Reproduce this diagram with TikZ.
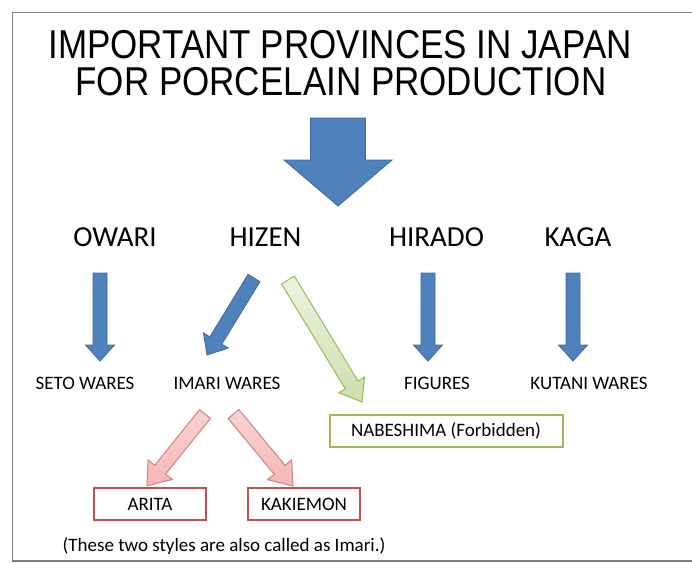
\documentclass[tikz,border=0pt]{standalone}
\usepackage{fontspec}
\setmainfont{Carlito}
\newfontfamily\titlefont{Liberation Sans}
\usetikzlibrary{calc}
\definecolor{bluefill}{HTML}{4F81BD}
\definecolor{blueline}{HTML}{3C6A9E}
\definecolor{greenfill}{HTML}{D7E4BD}
\definecolor{greenline}{HTML}{9BBB59}
\definecolor{redfill}{HTML}{F4B6B5}
\definecolor{redline}{HTML}{C0504D}
\definecolor{redarrowline}{HTML}{D3817F}
\newcommand\blockarrow[6]{%
  \coordinate (bh) at ($(#3)!#6!(#2)$);
  \draw[#1] ($(#2)!#4!90:(#3)$) -- ($(bh)!#4!-90:(#2)$) -- ($(bh)!#5!-90:(#2)$) -- (#3)
    -- ($(bh)!#5!90:(#2)$) -- ($(bh)!#4!90:(#2)$) -- ($(#2)!#4!-90:(#3)$) -- cycle;
}
\begin{document}
\begin{tikzpicture}[x=1pt,y=-1pt,
  titletext/.style={font=\titlefont\fontsize{35}{42}\selectfont, inner sep=0pt, align=center},
  province/.style={font=\fontsize{29}{34}\selectfont, inner sep=0pt},
  ware/.style={font=\fontsize{19}{23}\selectfont, inner sep=0pt},
  greenbox/.style={draw=greenline, line width=2pt, minimum width=233pt, minimum height=32pt, font=\fontsize{19}{23}\selectfont},
  redbox/.style={draw=redline, line width=2pt, minimum width=112pt, minimum height=32pt, font=\fontsize{19}{23}\selectfont},
  bluearrow/.style={fill=bluefill, draw=blueline, line width=0.8pt, line join=miter},
  greenarrow/.style={top color=greenfill!45!white, bottom color=greenfill!85!greenline, draw=greenline, line width=1pt},
  redarrow/.style={top color=redfill!60!white, bottom color=redfill, draw=redarrowline, line width=1pt},
  frameline/.style={draw=gray, line width=1.6pt}
]
\useasboundingbox (0,0) rectangle (692,563);
\fill[white] (0,0) rectangle (692,563);
% frame
\draw[frameline] (692,12.5) -- (12.5,12.5) -- (12.5,561) -- (692,561);

% title
\node[titletext] (title1) at (340,45) {\scalebox{1}[1.15]{IMPORTANT PROVINCES IN JAPAN}};
\node[titletext] (title2) at (341,82) {\scalebox{1}[1.15]{FOR PORCELAIN PRODUCTION}};

% provinces
\node[province] (owari) at (115,237) {OWARI};
\node[province] (hizen) at (265.5,237) {HIZEN};
\node[province] (hirado) at (436.5,237) {HIRADO};
\node[province] (kaga) at (578,237) {KAGA};

% wares
\node[ware] (seto) at (85,383) {SETO WARES};
\node[ware] (imari) at (227,383) {IMARI WARES};
\node[ware] (figures) at (437,383) {FIGURES};
\node[ware] (kutani) at (589,383) {KUTANI WARES};

% boxes
\node[greenbox] (nabeshima) at (446,430.5) {NABESHIMA (Forbidden)};
\node[redbox] (arita) at (150,504) {ARITA};
\node[redbox] (kakiemon) at (304,504) {KAKIEMON};

% caption
\node[ware] (caption) at (224,546) {(These two styles are also called as Imari.)};

% arrow end coordinates
\coordinate (bigS) at (338,118);
\coordinate (bigE) at (338,206);
\coordinate (owS) at (100,273);
\coordinate (owE) at (100,361);
\coordinate (hiS) at (428,273);
\coordinate (hiE) at (428,361);
\coordinate (kaS) at (573,273);
\coordinate (kaE) at (573,361);
\coordinate (hzS) at (254,278);
\coordinate (hzE) at (207,355);
\coordinate (grS) at (288,280);
\coordinate (grE) at (362,402);
\coordinate (rlS) at (205,414);
\coordinate (rlE) at (147,486);
\coordinate (rrS) at (233.5,414);
\coordinate (rrE) at (293,486);

% arrows
\blockarrow{bluearrow}{bigS}{bigE}{27.5pt}{54pt}{46pt}
\blockarrow{bluearrow}{owS}{owE}{7pt}{14.5pt}{16pt}
\blockarrow{bluearrow}{hiS}{hiE}{7pt}{14.5pt}{16pt}
\blockarrow{bluearrow}{kaS}{kaE}{7pt}{14.5pt}{16pt}
\blockarrow{bluearrow}{hzS}{hzE}{7pt}{14.5pt}{17pt}
\blockarrow{greenarrow}{grS}{grE}{7.5pt}{15pt}{20pt}
\blockarrow{redarrow}{rlS}{rlE}{7pt}{15.5pt}{21pt}
\blockarrow{redarrow}{rrS}{rrE}{7pt}{15.5pt}{21pt}
\end{tikzpicture}
\end{document}
